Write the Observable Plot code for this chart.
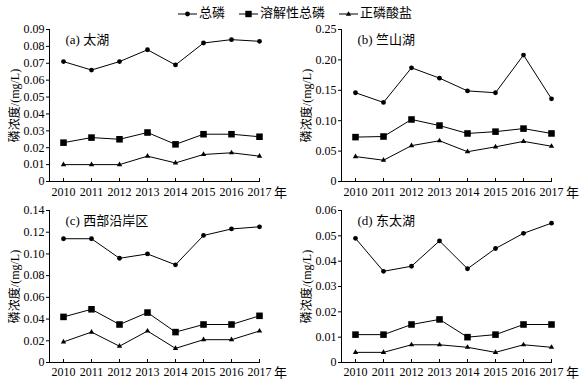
<!DOCTYPE html>
<html><head><meta charset="utf-8">
<script src="https://cdn.jsdelivr.net/npm/d3@7"></script>
<script src="https://cdn.jsdelivr.net/npm/@observablehq/plot@0.6"></script>
<style>
body{margin:0;background:#fff;}
#root{position:relative;width:584px;height:384px;font-family:"Liberation Serif","Noto Sans CJK SC",serif;color:#000;}
.panel{position:absolute;}
.lg{position:absolute;top:5px;height:16px;font-size:13px;line-height:16px;white-space:nowrap;}
.lg svg{vertical-align:middle;margin-right:2px;}
</style></head><body><div id="root"></div>
<script>
const years = [2010, 2011, 2012, 2013, 2014, 2015, 2016, 2017];
const seriesNames = ["总磷", "溶解性总磷", "正磷酸盐"];
const panelTitles = ["(a) 太湖", "(b) 竺山湖", "(c) 西部沿岸区", "(d) 东太湖"];
const yLabel = "磷浓度/(mg/L)";
const yearUnit = "年";

// (a) 太湖
const taihuTP  = [0.071, 0.066, 0.071, 0.078, 0.069, 0.082, 0.084, 0.083];
const taihuDTP = [0.023, 0.026, 0.025, 0.029, 0.022, 0.028, 0.028, 0.0265];
const taihuPO4 = [0.010, 0.010, 0.010, 0.015, 0.011, 0.016, 0.017, 0.015];
const taihuTicks = [0, 0.01, 0.02, 0.03, 0.04, 0.05, 0.06, 0.07, 0.08, 0.09];
// (b) 竺山湖
const zhushanTP  = [0.146, 0.130, 0.187, 0.170, 0.149, 0.146, 0.208, 0.136];
const zhushanDTP = [0.073, 0.074, 0.102, 0.092, 0.079, 0.082, 0.087, 0.079];
const zhushanPO4 = [0.041, 0.035, 0.059, 0.067, 0.049, 0.057, 0.066, 0.058];
const zhushanTicks = [0, 0.05, 0.10, 0.15, 0.20, 0.25];
// (c) 西部沿岸区
const westTP  = [0.114, 0.114, 0.096, 0.100, 0.090, 0.117, 0.123, 0.125];
const westDTP = [0.042, 0.049, 0.035, 0.046, 0.028, 0.035, 0.035, 0.043];
const westPO4 = [0.019, 0.028, 0.015, 0.029, 0.013, 0.021, 0.021, 0.029];
const westTicks = [0, 0.02, 0.04, 0.06, 0.08, 0.10, 0.12, 0.14];
// (d) 东太湖
const eastTP  = [0.049, 0.036, 0.038, 0.048, 0.037, 0.045, 0.051, 0.055];
const eastDTP = [0.011, 0.011, 0.015, 0.017, 0.010, 0.011, 0.015, 0.015];
const eastPO4 = [0.004, 0.004, 0.007, 0.007, 0.006, 0.004, 0.007, 0.006];
const eastTicks = [0, 0.01, 0.02, 0.03, 0.04, 0.05, 0.06];

const FONT = '"Liberation Serif","Noto Sans CJK SC",serif';
const symbols = ["circle", "square", "triangle"];
const radii = [2.4, 3.7, 2.0];

function toRows(tp, dtp, po4) {
  const rows = [];
  [tp, dtp, po4].forEach((arr, si) => arr.forEach((v, i) => rows.push({year: years[i], value: v, series: seriesNames[si]})));
  return rows;
}
const fmt = d => d === 0 ? "0" : d.toFixed(2);

function panel(rows, title, ticks, height, mt, mb, pad) {
  const marks = [
    Plot.frame({anchor: "left", stroke: "#000"}),
    Plot.frame({anchor: "bottom", stroke: "#000"}),
    Plot.axisX({ticks: years, tickFormat: d => String(d), tickSize: -3, tickPadding: pad, label: null, fontSize: 12}),
    Plot.axisY({ticks, tickFormat: fmt, tickSize: 3, tickPadding: 2, fontSize: 12,
      label: yLabel, labelAnchor: "center", labelOffset: 39, labelArrow: "none"}),
    Plot.line(rows, {x: "year", y: "value", z: "series", stroke: "#000", strokeWidth: 1})
  ];
  seriesNames.forEach((s, i) => {
    marks.push(Plot.dot(rows.filter(r => r.series === s), {x: "year", y: "value", symbol: symbols[i], r: radii[i], fill: "#000", stroke: "none"}));
  });
  marks.push(Plot.text([title], {frameAnchor: "top-left", dx: 16, dy: 10, textAnchor: "start", lineAnchor: "middle", fontSize: 13}));
  marks.push(Plot.text([yearUnit], {frameAnchor: "bottom-right", dx: 21, dy: pad + 2, textAnchor: "middle", lineAnchor: "middle", fontSize: 13}));
  return Plot.plot({
    width: 292, height,
    marginLeft: 49, marginRight: 33, marginTop: mt, marginBottom: mb,
    style: {background: "transparent", fontFamily: FONT, fontSize: "12px", color: "#000", overflow: "visible"},
    x: {domain: [2009.5, 2017]},
    y: {domain: [0, ticks[ticks.length - 1]]},
    marks
  });
}

const root = document.getElementById("root");
const specs = [
  [toRows(taihuTP, taihuDTP, taihuPO4), panelTitles[0], taihuTicks, 0, 0, 200, 29, 19, 9],
  [toRows(zhushanTP, zhushanDTP, zhushanPO4), panelTitles[1], zhushanTicks, 292, 0, 200, 29, 19, 9],
  [toRows(westTP, westDTP, westPO4), panelTitles[2], westTicks, 0, 195, 189, 15, 22, 8],
  [toRows(eastTP, eastDTP, eastPO4), panelTitles[3], eastTicks, 292, 195, 189, 15, 22, 8]
];
specs.forEach(([rows, title, ticks, left, top, h, mt, mb, pad]) => {
  const el = panel(rows, title, ticks, h, mt, mb, pad);
  el.classList.add("panel");
  el.style.left = left + "px";
  el.style.top = top + "px";
  root.appendChild(el);
});

// legend
const legendX = [178, 239, 339];
const symPaths = [
  '<circle cx="9.5" cy="5" r="2.4" fill="#000"/>',
  '<rect x="6.3" y="1.8" width="6.4" height="6.4" fill="#000"/>',
  '<path d="M9.5,2.2L12.2,6.8L6.8,6.8Z" fill="#000"/>'
];
seriesNames.forEach((s, i) => {
  const d = document.createElement("div");
  d.className = "lg";
  d.style.left = legendX[i] + "px";
  d.innerHTML = `<svg width="19" height="10"><line x1="0" y1="5" x2="19" y2="5" stroke="#000" stroke-width="1"/>${symPaths[i]}</svg>${s}`;
  root.appendChild(d);
});
</script></body></html>
